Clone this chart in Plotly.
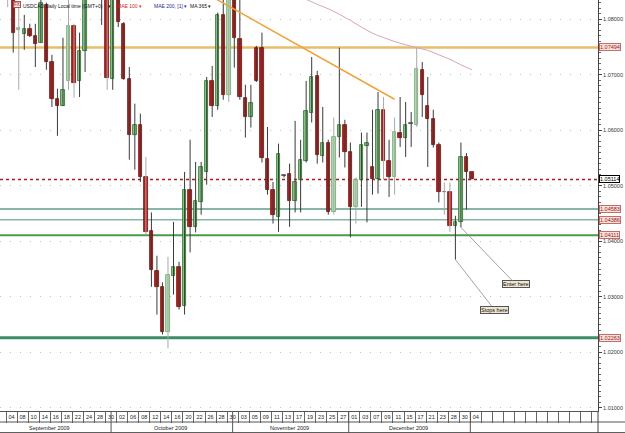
import plotly.graph_objects as go

# ---------------- data (USDCAD daily) ----------------
dates = ["2009-09-04","2009-09-07","2009-09-08","2009-09-09","2009-09-10","2009-09-11",
         "2009-09-14","2009-09-15","2009-09-16","2009-09-17","2009-09-18",
         "2009-09-21","2009-09-22","2009-09-23","2009-09-24","2009-09-25",
         "2009-09-28","2009-09-29","2009-09-30","2009-10-01","2009-10-02",
         "2009-10-05","2009-10-06","2009-10-07","2009-10-08","2009-10-09",
         "2009-10-12","2009-10-13","2009-10-14","2009-10-15","2009-10-16",
         "2009-10-19","2009-10-20","2009-10-21","2009-10-22","2009-10-23",
         "2009-10-26","2009-10-27","2009-10-28","2009-10-29","2009-10-30",
         "2009-11-02","2009-11-03","2009-11-04","2009-11-05","2009-11-06",
         "2009-11-09","2009-11-10","2009-11-11","2009-11-12","2009-11-13",
         "2009-11-16","2009-11-17","2009-11-18","2009-11-19","2009-11-20",
         "2009-11-23","2009-11-24","2009-11-25","2009-11-26","2009-11-27",
         "2009-11-30","2009-12-01","2009-12-02","2009-12-03","2009-12-04",
         "2009-12-07","2009-12-08","2009-12-09","2009-12-10","2009-12-11",
         "2009-12-14","2009-12-15","2009-12-16","2009-12-17","2009-12-18",
         "2009-12-21","2009-12-22","2009-12-23","2009-12-24","2009-12-28",
         "2009-12-29","2009-12-30","2009-12-31","2010-01-04"]

opens  = [1.0889,1.0844,1.0781,1.0774,1.0783,1.0770,1.0758,1.0826,1.0723,1.0657,1.0644,
          1.0689,1.0788,1.0689,1.0743,1.0850,1.0870,1.0890,1.0844,1.0693,1.0842,
          1.0792,1.0693,1.0592,1.0610,1.0516,1.0419,1.0347,1.0318,1.0236,1.0338,
          1.0353,1.0284,1.0493,1.0425,1.0471,1.0525,1.0689,1.0644,1.0808,1.0664,
          1.0844,1.0765,1.0659,1.0624,1.0749,1.0749,1.0549,1.0493,1.0444,1.0518,
          1.0522,1.0473,1.0511,1.0545,1.0632,1.0698,1.0554,1.0578,1.0452,1.0588,
          1.0610,1.0561,1.0462,1.0511,1.0572,1.0534,1.0513,1.0637,1.0545,1.0516,
          1.0596,1.0587,1.0612,1.0610,1.0709,1.0644,1.0621,1.0574,1.0488,1.0488,
          1.0428,1.0434,1.0552,1.0524]
highs  = [1.0907,1.0857,1.0831,1.0808,1.0792,1.0792,1.0839,1.0830,1.0736,1.0675,1.0767,
          1.0835,1.0792,1.0776,1.0849,1.0880,1.0905,1.0910,1.0862,1.0846,1.0849,
          1.0795,1.0714,1.0648,1.0630,1.0552,1.0452,1.0374,1.0326,1.0372,1.0435,
          1.0363,1.0525,1.0583,1.0543,1.0543,1.0696,1.0716,1.0812,1.0840,1.0853,
          1.0853,1.0844,1.0682,1.0682,1.0752,1.0776,1.0606,1.0507,1.0576,1.0520,
          1.0540,1.0617,1.0583,1.0689,1.0732,1.0707,1.0642,1.0583,1.0623,1.0749,
          1.0619,1.0578,1.0515,1.0596,1.0596,1.0637,1.0669,1.0660,1.0583,1.0623,
          1.0660,1.0651,1.0633,1.0749,1.0723,1.0696,1.0637,1.0578,1.0506,1.0506,
          1.0446,1.0578,1.0559,1.0524]
lows   = [1.0822,1.0740,1.0673,1.0745,1.0768,1.0714,1.0758,1.0709,1.0642,1.0590,1.0644,
          1.0673,1.0659,1.0660,1.0705,1.0842,1.0850,1.0790,1.0673,1.0673,1.0786,
          1.0691,1.0547,1.0529,1.0507,1.0412,1.0318,1.0268,1.0232,1.0207,1.0304,
          1.0277,1.0268,1.0380,1.0416,1.0448,1.0502,1.0624,1.0637,1.0655,1.0651,
          1.0713,1.0655,1.0587,1.0605,1.0687,1.0542,1.0484,1.0432,1.0417,1.0515,
          1.0426,1.0452,1.0452,1.0542,1.0614,1.0540,1.0542,1.0448,1.0448,1.0551,
          1.0533,1.0407,1.0432,1.0462,1.0434,1.0484,1.0486,1.0511,1.0480,1.0484,
          1.0570,1.0552,1.0570,1.0606,1.0624,1.0534,1.0569,1.0470,1.0448,1.0417,
          1.0367,1.0425,1.0457,1.05114]
closes = [1.0853,1.0776,1.0785,1.0783,1.0770,1.0756,1.0830,1.0723,1.0657,1.0644,1.0673,
          1.0788,1.0686,1.0743,1.0840,1.0870,1.0890,1.0860,1.0695,1.0839,1.0795,
          1.0693,1.0592,1.0610,1.0516,1.0417,1.0349,1.0318,1.0236,1.0340,1.0353,
          1.0282,1.0493,1.0426,1.0473,1.0533,1.0689,1.0644,1.0808,1.0664,1.0844,
          1.0767,1.0660,1.0624,1.0650,1.0689,1.0551,1.0493,1.0448,1.0558,1.0518,
          1.0473,1.0507,1.0547,1.0635,1.0696,1.0556,1.0578,1.0452,1.0588,1.0610,
          1.0561,1.0462,1.0511,1.0574,1.0578,1.0513,1.0637,1.0545,1.0516,1.0597,
          1.0587,1.0610,1.0612,1.0711,1.0664,1.0621,1.0574,1.0488,1.0488,1.0428,
          1.0434,1.0552,1.0524,1.05114]
# wick tone per candle: d = dark, g = grey
wick_tone = list("gdgddddddddggdddddgddddddgdddgddddddddddgddddddddddddddddddgdddgddddgdgdddgddddggdddd")

ma_idx  = [52, 54, 56, 58, 60, 62, 64, 66, 68, 70, 72, 74, 76, 78, 80, 82, 84]
ma_vals = [1.0844, 1.0836, 1.0827, 1.0819, 1.0809, 1.0798, 1.0786, 1.0775, 1.0767,
           1.0760, 1.0754, 1.0749, 1.0744, 1.0736, 1.0728, 1.0718, 1.0709]

trend_idx  = [36, 70]
trend_vals = [1.0846, 1.0656]

levels       = [1.07494, 1.05114, 1.04583, 1.04386, 1.04111, 1.02263]
level_labels = ["1.07494", "1.05114", "1.04583", "1.04386", "1.04111", "1.02263"]
level_colors = ["#e9be68", "#a81c1c", "#5e9e8a", "#8ab4a6", "#4a9a4a", "#3c8c66"]
level_widths = [2.5, 1.5, 1.5, 1.5, 2, 3]
level_dash   = ["solid", "dot", "solid", "solid", "solid", "solid"]

day_labels = ["02","04","08","10","14","16","18","22","24","28","30",
              "02","06","08","12","14","16","20","22","26","28","30",
              "03","05","09","11","13","17","19","23","25","27",
              "01","03","07","09","11","15","17","21","23","28","30",
              "04"]
day_label_idx = list(range(-2, 85, 2))

months          = ["September 2009", "October 2009", "November 2009", "December 2009"]
month_first_idx = [-3, 19, 41, 62]
month_last_idx  = [18, 40, 61, 83]
month_sep_idx   = [19, 41, 62, 84]

FONT = "Liberation Sans, Arial, sans-serif"

fig = go.Figure()
xi = list(range(len(opens)))

# wicks
for tone, col in (("d", "#3a3a3a"), ("g", "#a8a8a8")):
    wx, wy = [], []
    for i in xi:
        if wick_tone[i] == tone:
            wx += [i, i, None]
            wy += [lows[i], highs[i], None]
    fig.add_trace(go.Scatter(x=wx, y=wy, mode="lines", line=dict(color=col, width=1),
                             hoverinfo="skip", showlegend=False))

# bodies
bases, heights, fills, edges = [], [], [], []
for o, c, t in zip(opens, closes, wick_tone):
    bases.append(min(o, c))
    heights.append(max(abs(c - o), 0.0001))
    if abs(c - o) < 0.00015:
        fills.append("#555555"); edges.append("#555555")
    elif c > o:
        if t == "g":
            fills.append("#b4dab4"); edges.append("#6aa86a")
        else:
            fills.append("#8cc88c"); edges.append("#1f6e1f")
    else:
        fills.append("#b31f1c"); edges.append("#7a0f0f")
fig.add_trace(go.Bar(x=xi, y=heights, base=bases, width=0.62,
                     marker=dict(color=fills, line=dict(color=edges, width=0.8)),
                     hoverinfo="skip", showlegend=False))

# moving average and trend line
fig.add_trace(go.Scatter(x=ma_idx, y=ma_vals, mode="lines", line=dict(color="#d9a3b8", width=1, shape="spline"),
                         hoverinfo="skip", showlegend=False))
fig.add_trace(go.Scatter(x=trend_idx, y=trend_vals, mode="lines", line=dict(color="#f0a23c", width=1.5),
                         hoverinfo="skip", showlegend=False))

# horizontal levels + price tags
for lv, lab, col, w, d in zip(levels, level_labels, level_colors, level_widths, level_dash):
    fig.add_shape(type="line", xref="paper", x0=0, x1=1, yref="y", y0=lv, y1=lv,
                  line=dict(color=col, width=w, dash=d), layer="between")
    current = (d == "dot")
    fig.add_annotation(xref="paper", x=1, xanchor="left", xshift=1, yref="y", y=lv,
                       text=lab, showarrow=False,
                       font=dict(family=FONT, size=5.5, color="#000000" if current else "#8c1f1f"),
                       bgcolor="#ffffff" if current else "#fbe2da",
                       bordercolor="#000000" if current else "#c86a6a", borderwidth=1, borderpad=0)

# arrows with notes
fig.add_annotation(x=82, y=lows[82], xref="x", yref="y", text="Enter here", showarrow=True,
                   arrowhead=0, arrowwidth=0.8, arrowcolor="#8a8a8a", ax=55, ay=57,
                   font=dict(family=FONT, size=5.5, color="#111"), bgcolor="#efe6d2",
                   bordercolor="#555", borderwidth=1, borderpad=0)
fig.add_annotation(x=81, y=lows[81], xref="x", yref="y", text="Stops here", showarrow=True,
                   arrowhead=0, arrowwidth=0.8, arrowcolor="#8a8a8a", ax=39, ay=50,
                   font=dict(family=FONT, size=5.5, color="#111"), bgcolor="#efe6d2",
                   bordercolor="#555", borderwidth=1, borderpad=0)

# header
fig.add_annotation(xref="paper", yref="paper", x=0, y=1, xanchor="left", yanchor="top", xshift=13, yshift=-1,
                   text="FX", showarrow=False, font=dict(family=FONT, size=4.5, color="#8c1f1f"),
                   bgcolor="#f6dede", bordercolor="#b05050", borderwidth=1, borderpad=0)
header = [("USDCAD Daily Local time (GMT+0)", "#111111", 21),
          ("\u25be", "#111111", 106),
          ("MAE 100 \u25be", "#d02020", 115),
          ("MAE 200, [1] \u25be", "#27278a", 152),
          ("MA 365 \u25be", "#111111", 188)]
for txt, col, xs in header:
    fig.add_annotation(xref="paper", yref="paper", x=0, y=1, xanchor="left", yanchor="top",
                       xshift=xs, yshift=-1, text=txt, showarrow=False,
                       font=dict(family=FONT, size=5, color=col))

# date rows
fig.add_shape(type="line", xref="paper", x0=0, x1=1.05, yref="paper", y0=-0.0268, y1=-0.0268,
              line=dict(color="#555", width=1))
fig.add_shape(type="line", xref="paper", x0=0, x1=1.05, yref="paper", y0=-0.0525, y1=-0.0525,
              line=dict(color="#555", width=1))
fig.add_shape(type="line", xref="paper", x0=1, x1=1, yref="paper", y0=0, y1=-0.06,
              line=dict(color="#444", width=1))
for s in month_sep_idx:
    fig.add_shape(type="line", xref="x", x0=s - 0.3, x1=s - 0.3, yref="paper", y0=0, y1=-0.06,
                  line=dict(color="#555", width=1))
for m, a, b in zip(months, month_first_idx, month_last_idx):
    fig.add_annotation(xref="x", x=(a + b) / 2, yref="paper", y=-0.0405, yanchor="middle",
                       text=m, showarrow=False, font=dict(family=FONT, size=5.5, color="#222"))

fig.update_layout(
    width=625, height=433, margin=dict(l=0, r=27, t=0, b=22),
    paper_bgcolor="#ffffff", plot_bgcolor="#ffffff", showlegend=False, bargap=0,
    xaxis=dict(range=[-1.393, 106.8], showgrid=False, zeroline=False, automargin=False,
               tickmode="array", tickvals=[i + 0.7 for i in day_label_idx], ticktext=day_labels,
               ticks="", tickfont=dict(family=FONT, size=5.5, color="#222"),
               showline=True, linecolor="#555", linewidth=1, mirror=True,
               minor=dict(tickmode="array", tickvals=[k - 0.3 for k in range(-2, 108, 2)],
                          ticks="outside", ticklen=11, tickcolor="#666", tickwidth=1, showgrid=False)),
    yaxis=dict(range=[1.00942, 1.08348], side="right", automargin=False, zeroline=False,
               tick0=1.0, dtick=0.01, tickformat=".5f", ticks="outside", ticklen=3, tickcolor="#444",
               tickfont=dict(family=FONT, size=5.5, color="#333"),
               showgrid=True, gridcolor="#c2c2c2", griddash="1px,9px", gridwidth=1,
               showline=True, linecolor="#444", linewidth=1, mirror=True,
               minor=dict(dtick=0.001, ticks="outside", ticklen=2, tickcolor="#666", showgrid=False)),
)

fig.write_html("out.html")
